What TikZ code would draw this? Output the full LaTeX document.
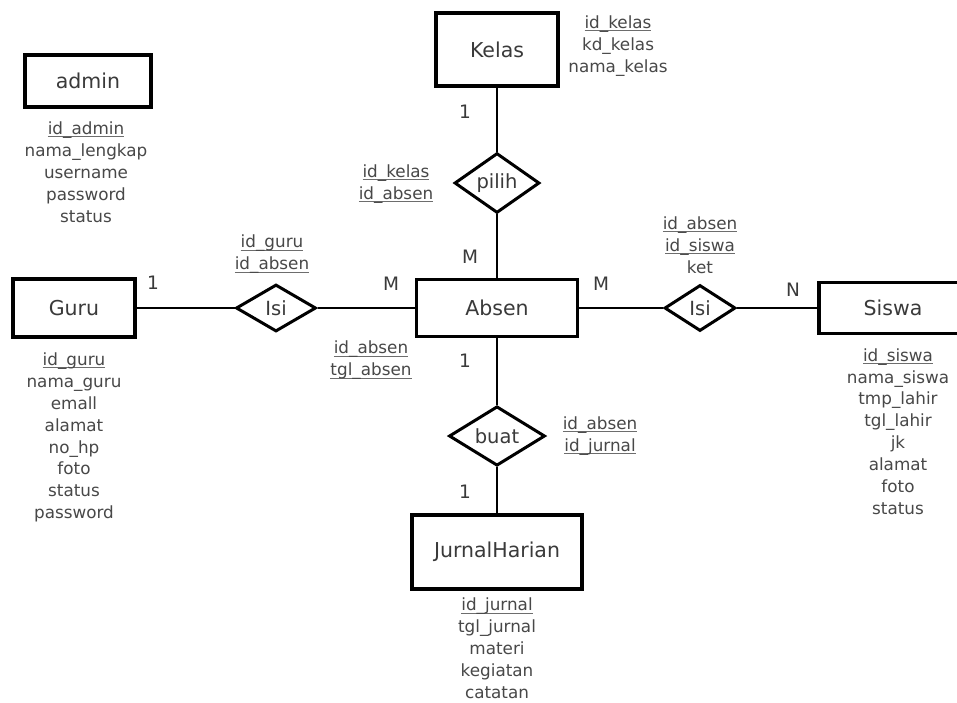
\documentclass[tikz,border=0pt]{standalone}
\usepackage{fontspec}
\setmainfont{DejaVu Sans}
\usetikzlibrary{shapes.geometric}
\definecolor{lbl}{HTML}{3A3A3A}
\definecolor{att}{HTML}{484848}
\newcommand{\ulx}[1]{{\setbox0\hbox{#1}\rlap{\color{att!80}\rule[-2.8pt]{\wd0}{1pt}}\box0}}
\newcommand{\attfont}{\fontsize{16.8}{21.9}\selectfont}
\tikzset{
  entity/.style={draw=black, line width=3.4pt, rectangle, inner sep=0pt, text=lbl, font=\fontsize{20.5}{24}\selectfont},
  rel/.style={draw=black, line width=3pt, diamond, inner sep=0pt, text=lbl, font=\fontsize{19.5}{22}\selectfont},
  attrs/.style={align=center, inner sep=0pt, text=att, font=\attfont},
  card/.style={inner sep=0pt, text=lbl, font=\fontsize{18.5}{20}\selectfont},
  link/.style={draw=black, line width=2.5pt}
}
\begin{document}
\begin{tikzpicture}[x=1pt,y=-1pt]
\clip (0,0) rectangle (957,702);
\fill[white] (0,0) rectangle (957,702);
% entities
\node[entity, minimum width=126pt, minimum height=52pt] (admin) at (88,81) {admin};
\node[entity, minimum width=122pt, minimum height=73pt] (kelas) at (497,49.5) {Kelas};
\node[entity, minimum width=161pt, minimum height=57pt] (absen) at (497,308) {Absen};
\node[entity, minimum width=122pt, minimum height=58pt] (guru) at (74,308) {Guru};
\node[entity, minimum width=170pt, minimum height=74pt] (jurnal) at (497,552) {JurnalHarian};
\node[entity, minimum width=148pt, minimum height=51pt] (siswa) at (893,308) {Siswa};
% relationships
\node[rel, minimum width=85pt, minimum height=58pt] (pilih) at (497,183) {pilih};
\node[rel, minimum width=80pt, minimum height=47pt] (isiA) at (276,308) {Isi};
\node[rel, minimum width=71pt, minimum height=46pt] (isiB) at (700,308) {Isi};
\node[rel, minimum width=96pt, minimum height=59pt] (buat) at (497,436) {buat};
% connectors
\draw[link] (kelas.south) -- (pilih.north);
\draw[link] (pilih.south) -- (absen.north);
\draw[link] (guru.east) -- (isiA.west);
\draw[link] (isiA.east) -- (absen.west);
\draw[link] (absen.east) -- (isiB.west);
\draw[link] (isiB.east) -- (siswa.west);
\draw[link] (absen.south) -- (buat.north);
\draw[link] (buat.south) -- (jurnal.north);
% attributes
\node[attrs] (adminA) at (86,172) {\ulx{id\_admin}\\nama\_lengkap\\username\\password\\status};
\node[attrs] (kelasA) at (618,46) {\ulx{id\_kelas}\\kd\_kelas\\nama\_kelas};
\node[attrs] (pilihA) at (396,184) {\ulx{id\_kelas}\\\ulx{id\_absen}};
\node[attrs] (isiAA) at (272,254.5) {\ulx{id\_guru}\\\ulx{id\_absen}};
\node[attrs] (absenA) at (371,360.5) {\ulx{id\_absen}\\\ulx{tgl\_absen}};
\node[attrs] (isiBA) at (700,245) {\ulx{id\_absen}\\\ulx{id\_siswa}\\ket};
\node[attrs] (buatA) at (600,436) {\ulx{id\_absen}\\\ulx{id\_jurnal}};
\node[attrs] (guruA) at (74,437.5) {\ulx{id\_guru}\\nama\_guru\\emall\\alamat\\no\_hp\\foto\\status\\password};
\node[attrs] (siswaA) at (898,431.5) {\ulx{id\_siswa}\\nama\_siswa\\tmp\_lahir\\tgl\_lahir\\jk\\alamat\\foto\\status};
\node[attrs] (jurnalA) at (497,648.5) {\ulx{id\_jurnal}\\tgl\_jurnal\\materi\\kegiatan\\catatan};
% cardinalities
\node[card] (c1) at (465,112) {1};
\node[card] (c2) at (470,257) {M};
\node[card] (c3) at (153,283) {1};
\node[card] (c4) at (391,284) {M};
\node[card] (c5) at (601,284) {M};
\node[card] (c6) at (793,290) {N};
\node[card] (c7) at (465,361) {1};
\node[card] (c8) at (465,492) {1};
\end{tikzpicture}
\end{document}
